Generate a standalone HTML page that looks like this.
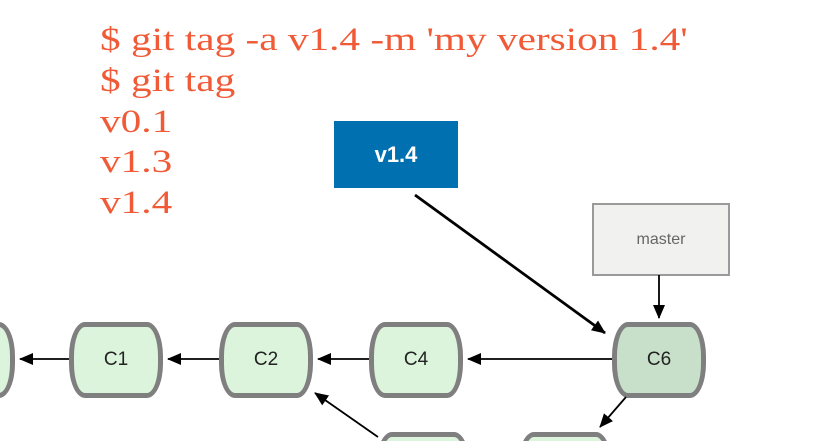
<!DOCTYPE html>
<html style="width:826px;height:441px;overflow:hidden"><head><style>
html,body{margin:0;width:826px;height:441px;overflow:hidden;background:#fff}
#w{position:absolute;left:0;top:0;width:826px;height:441px;overflow:hidden;font-family:"Liberation Sans",sans-serif}
.t{position:absolute;left:100px;font-family:"Liberation Serif",serif;font-size:33px;color:#f05a36;line-height:40px;white-space:nowrap;transform:scaleX(1.25);transform-origin:0 0}
.n{position:absolute;width:84px;height:66px;border:5px solid #7f7f7f;border-radius:16px/34px;background:#dcf3dc;box-sizing:content-box;text-align:center;line-height:66px;font-size:19px;color:#222}
.b{position:absolute;top:432px;width:94px;height:9px;overflow:hidden}
.b div{width:84px;height:66px;border:5px solid #7f7f7f;border-radius:16px/34px;background:#dcf3dc}
</style></head><body><div id="w">
<div class="t" style="top:20px">$ git tag -a v1.4 -m 'my version 1.4'</div>
<div class="t" style="top:61px">$ git tag</div>
<div class="t" style="top:102px">v0.1</div>
<div class="t" style="top:142px">v1.3</div>
<div class="t" style="top:183px">v1.4</div>
<div style="position:absolute;left:334px;top:121px;width:124px;height:67px;background:#0070b0;color:#fff;font-weight:bold;font-size:22px;text-align:center;line-height:67px">v1.4</div>
<div style="position:absolute;left:592px;top:203px;width:134px;height:69px;background:#f1f1ef;border:2px solid #9a9a9a;color:#666;font-size:16px;text-align:center;line-height:69px">master</div>
<div style="position:absolute;left:0;top:322px;width:15px;height:76px;overflow:hidden"><div class="n" style="left:-79px;top:0"></div></div>
<div class="n" style="left:69px;top:322px">C1</div>
<div class="n" style="left:219px;top:322px">C2</div>
<div class="n" style="left:369px;top:322px">C4</div>
<div class="n" style="left:612px;top:322px;background:#c8e0c9">C6</div>
<div class="b" style="left:376px"><div></div></div>
<div class="b" style="left:518px"><div></div></div>
<svg width="826" height="441" style="position:absolute;left:0;top:0">
<defs><marker id="a" markerWidth="14" markerHeight="12" refX="13" refY="6" orient="auto" markerUnits="userSpaceOnUse"><path d="M0,0L14,6L0,12z" fill="#000"/></marker></defs>
<g stroke="#000" stroke-width="1.8" fill="none" marker-end="url(#a)">
<line x1="612" y1="359" x2="468" y2="359"/>
<line x1="369" y1="359" x2="318" y2="359"/>
<line x1="219" y1="359" x2="168" y2="359"/>
<line x1="69" y1="359" x2="20" y2="359"/>
<line x1="659" y1="275" x2="659" y2="318"/>
<line x1="626" y1="397" x2="600" y2="427"/>
<line x1="378" y1="437" x2="315" y2="393"/>
<line x1="415" y1="195" x2="605" y2="333" stroke-width="2.8"/>
</g>
</svg>
</div></body></html>
